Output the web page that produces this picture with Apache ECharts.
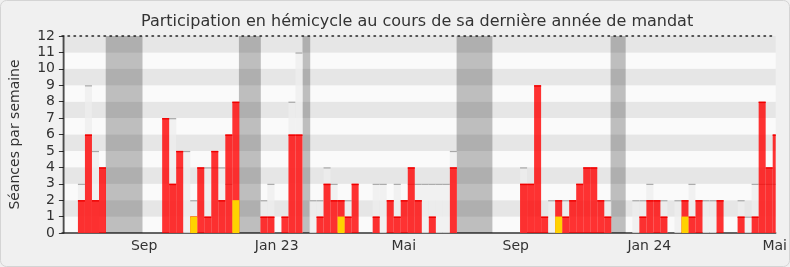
<!DOCTYPE html>
<html>
<head>
<meta charset="utf-8">
<script src="https://cdn.jsdelivr.net/npm/echarts@6/dist/echarts.min.js"></script>
<style>
  html, body { margin: 0; padding: 0; background: #f0f0f0; }
  #chart { width: 790px; height: 267px; }
</style>
</head>
<body>
<div id="chart"></div>
<script>
// Weekly sittings attended in the chamber (week 0 = first week shown).
const presence = [
  0, 0, 2, 6, 2, 4, 0, 0, 0, 0,
  0, 0, 0, 0, 7, 3, 5, 0, 1, 4,
  1, 5, 2, 6, 8, 0, 0, 0, 1, 1,
  0, 1, 6, 6, 0, 0, 1, 3, 2, 2,
  1, 3, 0, 0, 1, 0, 2, 1, 2, 4,
  2, 0, 1, 0, 0, 4, 0, 0, 0, 0,
  0, 0, 0, 0, 0, 3, 3, 9, 1, 0,
  2, 1, 2, 3, 4, 4, 2, 1, 0, 0,
  0, 0, 1, 2, 2, 1, 0, 0, 2, 1,
  2, 0, 0, 2, 0, 0, 1, 0, 1, 8,
  4, 6
];

// Median attendance of all members for the same week (null = not shown).
const median = [
  null, null, 3, 9, 5, null, null, null, null, null,
  null, null, null, null, null, 7, 4, 5, 2, null,
  4, 4, 4, 3, null, null, null, null, 2, 3,
  null, null, 8, 11, null, 2, 2, 4, 3, null,
  2, null, null, null, 3, 3, null, 3, null, 3,
  3, 3, 3, 3, 3, 5, null, null, null, null,
  null, null, null, null, null, 4, null, null, null, 2,
  null, 2, null, null, null, null, null, 2, null, null,
  null, 2, 2, 3, null, 2, null, 2, null, 3,
  null, 2, 2, null, null, null, 2, 1, 3, 3,
  3, 3
];

// Sittings with a speech.
const interventions = [
  0, 0, 0, 0, 0, 0, 0, 0, 0, 0,
  0, 0, 0, 0, 0, 0, 0, 0, 1, 0,
  0, 0, 0, 0, 2, 0, 0, 0, 0, 0,
  0, 0, 0, 0, 0, 0, 0, 0, 0, 1,
  0, 0, 0, 0, 0, 0, 0, 0, 0, 0,
  0, 0, 0, 0, 0, 0, 0, 0, 0, 0,
  0, 0, 0, 0, 0, 0, 0, 0, 0, 0,
  1, 0, 0, 0, 0, 0, 0, 0, 0, 0,
  0, 0, 0, 0, 0, 0, 0, 0, 1, 0,
  0, 0, 0, 0, 0, 0, 0, 0, 0, 0,
  0, 0
];

// Parliamentary recesses, [start, end] in weeks.
const vacations = [
  [-0.27, 0.16], [5.96, 11.2], [24.94, 28.06], [34.0, 35.1], [55.96, 61.06], [77.9, 80.05]
];

// Month labels and their positions in weeks.
const monthTicks = [11.44, 30.33, 48.43, 64.39, 83.42, 101.29];
const monthLabels = ['Sep', 'Jan 23', 'Mai', 'Sep', 'Jan 24', 'Mai'];

const X_MIN = -0.27, X_MAX = 101.43;
const FONT = 'DejaVu Sans';

function weekBox(fill, edge, edgeWidth) {
  return function (params, api) {
    const wk = api.value(0);
    const v = api.value(1);
    if (!(v > 0)) return null;
    const base = api.coord([wk, 0]);
    const top = api.coord([wk + 1, v]);
    const cs = params.coordSys;
    const shape = echarts.graphic.clipRectByRect(
      { x: base[0], y: top[1], width: top[0] - base[0], height: base[1] - top[1] },
      { x: cs.x, y: cs.y, width: cs.width, height: cs.height }
    );
    if (!shape) return null;
    const children = [{ type: 'rect', shape: shape, style: { fill: fill } }];
    if (edge) {
      children.push({
        type: 'line',
        shape: { x1: shape.x, y1: shape.y + edgeWidth / 2, x2: shape.x + shape.width, y2: shape.y + edgeWidth / 2 },
        style: { stroke: edge, lineWidth: edgeWidth }
      });
    }
    return { type: 'group', children: children };
  };
}

const toPairs = arr => arr.map((v, i) => [i, v == null ? 0 : v]);

const chart = echarts.init(document.getElementById('chart'), null, { renderer: 'canvas' });

chart.setOption({
  animation: false,
  backgroundColor: '#f0f0f0',
  title: {
    text: 'Participation en hémicycle au cours de sa dernière année de mandat',
    left: 136,
    top: 9,
    textStyle: { fontFamily: FONT, fontSize: 16, fontWeight: 'normal', color: '#333' }
  },
  graphic: [{
    type: 'rect', silent: true, z: 100,
    shape: { x: 0.5, y: 0.5, width: 789, height: 266, r: 6 },
    style: { fill: 'none', stroke: '#d4d4d4', lineWidth: 1 }
  }],
  grid: { left: 62, right: 10, top: 36, bottom: 34 },
  xAxis: [{
    type: 'value', min: X_MIN, max: X_MAX,
    axisLine: { show: true, onZero: false, lineStyle: { color: '#333', width: 1.5 } },
    axisTick: { show: false },
    splitLine: { show: false },
    axisLabel: {
      customValues: monthTicks,
      formatter: function (val) {
        let best = 0;
        monthTicks.forEach((t, i) => { if (Math.abs(t - val) < Math.abs(monthTicks[best] - val)) best = i; });
        return monthLabels[best];
      },
      color: '#333', fontSize: 14, fontFamily: FONT, margin: 6
    }
  }, {
    type: 'value', position: 'top', min: X_MIN, max: X_MAX,
    axisLine: { show: true, onZero: false, lineStyle: { color: '#222', width: 1.5, type: [1.5, 4.5] } },
    axisTick: { show: false }, axisLabel: { show: false }, splitLine: { show: false }
  }],
  yAxis: [{
    type: 'value', min: 0, max: 12, interval: 1,
    name: 'Séances par semaine', nameLocation: 'middle', nameGap: 40,
    nameTextStyle: { fontFamily: FONT, fontSize: 14, color: '#333' },
    axisLine: { show: true, lineStyle: { color: '#333', width: 1.5 } },
    axisTick: { show: true, length: 5, lineStyle: { color: '#333' } },
    axisLabel: { fontFamily: FONT, fontSize: 14, color: '#333', margin: 7 },
    splitLine: { show: false },
    splitArea: { show: true, areaStyle: { color: ['#fafafa', '#e6e6e6'] } }
  }, {
    type: 'value', position: 'right', min: 0, max: 12, interval: 1,
    axisLine: { show: true, lineStyle: { color: '#c8c8c8', width: 1 } },
    axisTick: { show: false }, axisLabel: { show: false },
    splitLine: { show: false }, splitArea: { show: false }
  }],
  series: [{
    name: 'Vacances',
    type: 'line',
    data: [],
    markArea: {
      silent: true,
      itemStyle: { color: 'rgba(0,0,0,0.24)' },
      data: vacations.map(([a, b]) => [{ xAxis: a }, { xAxis: b }])
    }
  }, {
    name: 'Médiane',
    type: 'custom', z: 3,
    renderItem: weekBox('rgba(238,238,238,0.75)', '#a8a8a8', 1.2),
    encode: { x: 0, y: 1 },
    data: toPairs(median)
  }, {
    name: 'Présences',
    type: 'custom', z: 4,
    renderItem: weekBox('rgba(255,0,0,0.8)', '#f00000', 1.4),
    encode: { x: 0, y: 1 },
    data: toPairs(presence)
  }, {
    name: 'Interventions',
    type: 'custom', z: 5,
    renderItem: weekBox('#ffd200', null, 0),
    encode: { x: 0, y: 1 },
    data: toPairs(interventions)
  }]
});
</script>
</body>
</html>
